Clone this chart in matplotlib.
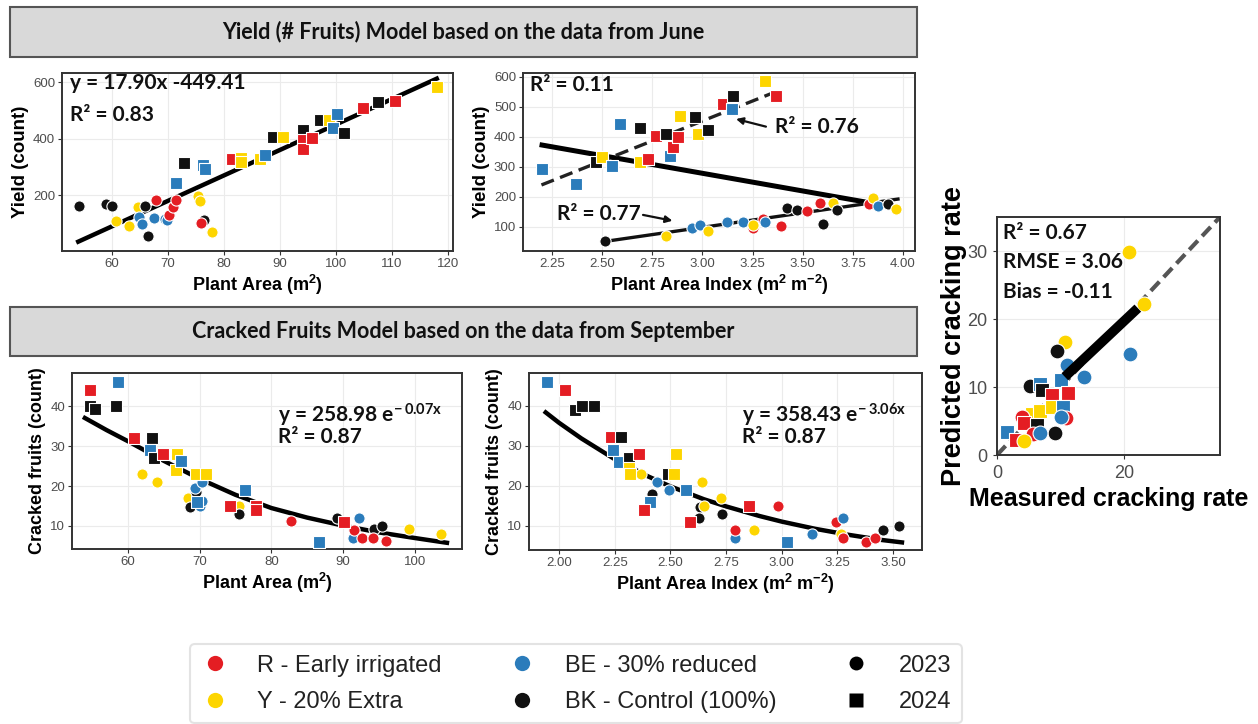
import matplotlib
matplotlib.use("Agg")
import matplotlib.pyplot as plt
from matplotlib.lines import Line2D
from matplotlib.patches import Rectangle

plt.rcParams['font.family'] = ['Liberation Sans', 'DejaVu Sans']
plt.rcParams['mathtext.default'] = 'regular'

W, H = 1258, 724

# Colours per irrigation treatment
COLORS = {'R': '#e41d23', 'Y': '#fdd500', 'BE': '#2b7cbb', 'BK': '#111111'}

# Panel A: yield vs plant area (June)
pa_x = [54.2, 59.0, 60.0, 60.8, 63.0, 64.7, 64.8, 65.3, 66.0, 66.5, 67.5, 67.8, 69.5, 69.8, 70.2,
        71.0, 71.5, 75.3, 75.7, 76.5, 76.0, 77.8,
        72.8, 71.5, 76.3, 76.6, 81.5, 83.0, 83.0, 86.5, 87.3, 88.7, 90.5, 94.2, 94.2, 94.2, 95.7,
        97.2, 98.7, 99.5, 100.2, 101.5, 104.8, 107.6, 110.5, 118.0]
pa_y = [162, 170, 160, 108, 90, 159, 124, 98, 161, 55, 119, 181, 116, 110, 129,
        159, 181, 196, 179, 112, 100, 71,
        312, 244, 306, 291, 326, 330, 318, 326, 341, 406, 404, 429, 396, 362, 402,
        465, 465, 439, 488, 420, 509, 529, 532, 582]
pa_trt = ['BK', 'BK', 'BK', 'Y', 'Y', 'Y', 'BE', 'BE', 'BK', 'BK', 'BE', 'R', 'BE', 'BE', 'R',
          'R', 'R', 'Y', 'Y', 'BK', 'R', 'Y',
          'BK', 'BE', 'BE', 'BE', 'R', 'Y', 'Y', 'Y', 'BE', 'BK', 'Y', 'BK', 'R', 'R', 'R',
          'BK', 'Y', 'BE', 'BE', 'BK', 'R', 'BK', 'R', 'Y']
pa_year = [2023] * 22 + [2024] * 24
pa_fit_x = [54.0, 118.0]
pa_fit_y = [35, 612]

# Panel B: yield vs plant area index (June)
pb_x = [2.20, 2.37, 2.47, 2.50, 2.55, 2.59, 2.69, 2.69, 2.73, 2.77, 2.82, 2.84, 2.855, 2.88, 2.89,
        2.965, 2.98, 3.03, 3.10, 3.15, 3.146, 3.31, 3.365,
        2.515, 2.82, 2.95, 2.99, 3.03, 3.12, 3.20, 3.25, 3.25, 3.30, 3.31, 3.39, 3.42, 3.47,
        3.52, 3.585, 3.60, 3.65, 3.67, 3.83, 3.85, 3.875, 3.925, 3.967]
pb_y = [292, 244, 315, 332, 303, 442, 431, 315, 326, 403, 409, 338, 365, 399, 469,
        467, 409, 423, 511, 536, 492, 587, 536,
        52, 69, 97, 108, 88, 117, 117, 97, 108, 128, 117, 102, 163, 158,
        154, 180, 110, 180, 158, 177, 196, 169, 177, 160]
pb_trt = ['BE', 'BE', 'BK', 'Y', 'BE', 'BE', 'BK', 'Y', 'R', 'R', 'BK', 'BE', 'R', 'R', 'Y',
          'BK', 'Y', 'BK', 'R', 'BK', 'BE', 'Y', 'R',
          'BK', 'Y', 'BE', 'BE', 'Y', 'BE', 'BE', 'R', 'Y', 'R', 'BE', 'R', 'BK', 'BK',
          'R', 'R', 'BK', 'Y', 'BK', 'R', 'Y', 'BE', 'BK', 'Y']
pb_year = [2024] * 23 + [2023] * 24
pb_fit_all_x = [2.20, 3.84]
pb_fit_all_y = [373, 180]
pb_fit_2024_x = [2.197, 3.345]
pb_fit_2024_y = [240, 545]
pb_fit_2023_x = [2.515, 3.975]
pb_fit_2023_y = [52, 193]

# Panel C: cracked fruits vs plant area (September)
pc_x = [61.9, 64.0, 68.4, 68.7, 69.5, 69.4, 70.0, 70.3, 70.3, 75.5, 75.5, 82.8, 89.2, 91.4, 91.6,
        92.2, 92.7, 94.3, 94.2, 95.5, 96.0, 99.2, 103.7,
        54.65, 58.6, 54.65, 55.4, 58.4, 60.8, 63.3, 63.1, 63.6, 64.9, 66.8, 66.65, 67.4, 69.5,
        70.9, 69.7, 76.4, 74.3, 77.8, 77.8, 86.7, 90.2]
pc_y = [23.0, 21.0, 17.1, 14.8, 18.4, 19.4, 15.0, 16.3, 21.0, 15.0, 12.9, 11.3, 12.0, 7.0, 9.1,
        12.0, 7.1, 9.2, 7.1, 10.0, 6.2, 9.2, 8.1,
        44.0, 46.0, 40.0, 39.2, 40.0, 32.1, 32.0, 29.0, 26.9, 28.0, 28.0, 24.0, 26.2, 23.0,
        23.0, 16.0, 19.1, 15.0, 15.0, 13.9, 6.0, 11.1]
pc_trt = ['Y', 'Y', 'Y', 'BK', 'BK', 'BE', 'BE', 'BE', 'BE', 'Y', 'BK', 'R', 'BK', 'BE', 'R',
          'BE', 'R', 'BK', 'R', 'BK', 'R', 'Y', 'Y',
          'R', 'BE', 'BK', 'BK', 'BK', 'R', 'BK', 'BE', 'BK', 'R', 'Y', 'Y', 'BE', 'Y',
          'Y', 'BE', 'BE', 'R', 'R', 'R', 'BE', 'R']
pc_year = [2023] * 23 + [2024] * 22
pc_curve_x = [54, 57, 60, 65, 70, 75, 80, 85, 90, 95, 100, 104.5]
pc_curve_y = [37.0, 34.0, 31.2, 26.3, 21.8, 17.8, 14.5, 12.1, 10.1, 8.4, 7.0, 5.8]

# Panel D: cracked fruits vs plant area index (September)
pd_x = [2.37, 2.419, 2.44, 2.494, 2.632, 2.629, 2.642, 2.65, 2.729, 2.734, 2.792, 2.792, 2.874,
        2.983, 3.138, 3.246, 3.276, 3.268, 3.276, 3.377, 3.418, 3.455, 3.527,
        1.946, 2.025, 2.07, 2.103, 2.156, 2.235, 2.277, 2.243, 2.268, 2.314, 2.36, 2.314, 2.317,
        2.407, 2.382, 2.49, 2.515, 2.527, 2.569, 2.587, 2.853, 3.025]
pd_y = [23.0, 17.9, 20.9, 19.0, 14.8, 11.9, 21.1, 15.0, 16.9, 12.9, 6.9, 9.0, 9.0,
        15.0, 7.9, 11.1, 12.1, 8.0, 6.9, 5.9, 6.9, 9.0, 10.0,
        45.9, 44.0, 39.0, 40.0, 40.0, 32.2, 32.2, 29.0, 26.1, 27.1, 28.0, 24.4, 23.0,
        16.1, 14.0, 23.0, 23.0, 27.9, 19.0, 11.1, 15.0, 6.1]
pd_trt = ['Y', 'BK', 'BE', 'BE', 'BK', 'BK', 'Y', 'Y', 'Y', 'BK', 'BE', 'R', 'Y',
          'R', 'BE', 'R', 'BE', 'Y', 'R', 'R', 'R', 'BK', 'BK',
          'BE', 'R', 'BK', 'BK', 'BK', 'R', 'BK', 'BE', 'BE', 'BK', 'R', 'Y', 'Y',
          'BE', 'R', 'BK', 'Y', 'Y', 'BE', 'R', 'R', 'BE']
pd_year = [2023] * 23 + [2024] * 22
pd_curve_x = [1.94, 2.0, 2.1, 2.25, 2.4, 2.5, 2.65, 2.75, 2.9, 3.0, 3.15, 3.3, 3.45, 3.54]
pd_curve_y = [38.4, 35.8, 31.9, 26.7, 22.4, 19.9, 16.7, 14.9, 12.5, 11.1, 9.3, 7.8, 6.5, 5.9]

# Panel E: predicted vs measured cracking rate
pe_x = [20.7, 23.0, 20.9, 10.6, 9.35, 11.0, 13.6, 5.2, 6.75, 10.0, 7.0, 8.6, 11.1, 5.5, 6.75,
        8.6, 10.4, 10.9, 10.1, 3.9, 4.2, 6.2, 5.7, 9.1, 6.75, 1.6, 3.0, 4.2]
pe_y = [29.8, 22.2, 14.8, 16.6, 15.3, 13.3, 11.5, 10.1, 10.5, 11.1, 9.6, 8.8, 9.1, 6.1, 6.4,
        7.0, 7.1, 5.4, 5.6, 5.6, 4.7, 4.4, 3.1, 3.2, 3.2, 3.4, 2.2, 2.1]
pe_trt = ['Y', 'Y', 'BE', 'Y', 'BK', 'BE', 'BE', 'BK', 'BE', 'BE', 'BK', 'R', 'R', 'Y', 'Y',
          'Y', 'BE', 'R', 'BE', 'R', 'R', 'BK', 'R', 'BK', 'BE', 'BE', 'R', 'Y']
pe_year = [2023, 2023, 2023, 2023, 2023, 2023, 2023, 2023, 2024, 2024, 2024, 2024, 2024, 2024, 2024,
           2024, 2024, 2023, 2023, 2023, 2024, 2024, 2023, 2023, 2023, 2024, 2024, 2023]
pe_fit_x = [10.65, 22.1]
pe_fit_y = [11.5, 21.6]
one_to_one = [0, 35]

LEGEND_LABELS = ['R - Early irrigated', 'Y - 20% Extra', 'BE - 30% reduced',
                 'BK - Control (100%)', '2023', '2024']


def px_axes(fig, x0, y0, x1, y1):
    return fig.add_axes([x0 / W, 1 - y1 / H, (x1 - x0) / W, (y1 - y0) / H])


def style_axes(ax, tick_size=9.5, pad=2):
    for sp in ax.spines.values():
        sp.set_color('#333333')
        sp.set_linewidth(1.4)
    ax.tick_params(direction='out', length=3, width=0.8, color='#333333',
                   labelcolor='#4d4d4d', labelsize=tick_size, pad=pad)
    ax.grid(True, color='#ebebeb', linewidth=0.8)
    ax.set_axisbelow(True)


def draw_points(ax, xs, ys, trts, years, size=65):
    for x, y, t, yr in zip(xs, ys, trts, years):
        ax.scatter(x, y, s=size, c=COLORS[t], marker='o' if yr == 2023 else 's',
                   edgecolors='white', linewidths=0.8, zorder=3)


def banner(fig, y0, y1, text):
    rect = Rectangle((10 / W, 1 - y1 / H), 907 / W, (y1 - y0) / H, transform=fig.transFigure,
                     facecolor='#d9d9d9', edgecolor='#555555', linewidth=1.5)
    fig.add_artist(rect)
    fig.text(463 / W, 1 - (y0 + y1) / 2 / H, text, ha='center', va='center',
             fontsize=15.5, fontweight='bold', family='Lato', color='#111111')


fig = plt.figure(figsize=(W / 100, H / 100), dpi=100)

banner(fig, 7, 57, 'Yield (# Fruits) Model based on the data from June')
banner(fig, 307, 356, 'Cracked Fruits Model based on the data from September')

eq_kw = dict(fontsize=15, fontweight='bold', family='Lato', color='#111111', va='center')

# Panel A
ax1 = px_axes(fig, 62, 73, 453, 251)
style_axes(ax1)
draw_points(ax1, pa_x, pa_y, pa_trt, pa_year)
ax1.plot(pa_fit_x, pa_fit_y, color='black', lw=3.2, zorder=2)
ax1.set_xlim(51.1, 120.9)
ax1.set_ylim(2, 632)
ax1.set_xticks([60, 70, 80, 90, 100, 110, 120])
ax1.set_yticks([200, 400, 600])
ax1.set_xlabel('Plant Area (m$^2$)', fontsize=13, fontweight='bold', labelpad=2)
ax1.set_ylabel('Yield (count)', fontsize=13.5, fontweight='bold', labelpad=3)
ax1.text(0.02, 0.944, 'y = 17.90x -449.41', transform=ax1.transAxes, **eq_kw)
ax1.text(0.02, 0.764, 'R² = 0.83', transform=ax1.transAxes, **eq_kw)

# Panel B
ax2 = px_axes(fig, 523, 73, 915, 251)
style_axes(ax2)
draw_points(ax2, pb_x, pb_y, pb_trt, pb_year)
ax2.plot(pb_fit_all_x, pb_fit_all_y, color='black', lw=3.6, zorder=2)
ax2.plot(pb_fit_2024_x, pb_fit_2024_y, color='#222222', lw=2.4, ls=(0, (4, 2)), zorder=2)
ax2.plot(pb_fit_2023_x, pb_fit_2023_y, color='#111111', lw=2.4, zorder=2)
ax2.set_xlim(2.105, 4.06)
ax2.set_ylim(20, 613)
ax2.set_xticks([2.25, 2.5, 2.75, 3.0, 3.25, 3.5, 3.75, 4.0])
ax2.set_xticklabels(['%.2f' % v for v in ax2.get_xticks()])
ax2.set_yticks([100, 200, 300, 400, 500, 600])
ax2.set_xlabel('Plant Area Index (m$^2$ m$^{-2}$)', fontsize=13, fontweight='bold', labelpad=2)
ax2.set_ylabel('Yield (count)', fontsize=13.5, fontweight='bold', labelpad=3)
ax2.text(0.018, 0.933, 'R² = 0.11', transform=ax2.transAxes, **eq_kw)
ax2.text(3.361, 434, 'R² = 0.76', **eq_kw)
ax2.annotate('', xy=(3.154, 462), xytext=(3.33, 432),
             arrowprops=dict(arrowstyle='-|>', color='#111111', lw=1.6, mutation_scale=10))
ax2.text(2.275, 144, 'R² = 0.77', **eq_kw)
ax2.annotate('', xy=(2.864, 119), xytext=(2.69, 142),
             arrowprops=dict(arrowstyle='-|>', color='#111111', lw=1.6, mutation_scale=10))

# Panel C
ax3 = px_axes(fig, 72, 373, 462, 549)
style_axes(ax3)
draw_points(ax3, pc_x, pc_y, pc_trt, pc_year)
ax3.plot(pc_curve_x, pc_curve_y, color='black', lw=3.2, zorder=2)
ax3.set_xlim(52.2, 106.6)
ax3.set_ylim(4.25, 48.25)
ax3.set_xticks([60, 70, 80, 90, 100])
ax3.set_yticks([10, 20, 30, 40])
ax3.set_xlabel('Plant Area (m$^2$)', fontsize=13, fontweight='bold', labelpad=2)
ax3.set_ylabel('Cracked fruits (count)', fontsize=13, fontweight='bold', labelpad=3)
ax3.text(0.528, 0.761, 'y = 258.98 e$^{-\\,0.07x}$', transform=ax3.transAxes, **eq_kw)
ax3.text(0.528, 0.636, 'R² = 0.87', transform=ax3.transAxes, **eq_kw)

# Panel D
ax4 = px_axes(fig, 529, 373, 922, 550)
style_axes(ax4)
draw_points(ax4, pd_x, pd_y, pd_trt, pd_year)
ax4.plot(pd_curve_x, pd_curve_y, color='black', lw=3.2, zorder=2)
ax4.set_xlim(1.865, 3.63)
ax4.set_ylim(4.0, 48.25)
ax4.set_xticks([2.0, 2.25, 2.5, 2.75, 3.0, 3.25, 3.5])
ax4.set_xticklabels(['%.2f' % v for v in ax4.get_xticks()])
ax4.set_yticks([10, 20, 30, 40])
ax4.set_xlabel('Plant Area Index (m$^2$ m$^{-2}$)', fontsize=13, fontweight='bold', labelpad=2)
ax4.set_ylabel('Cracked fruits (count)', fontsize=13, fontweight='bold', labelpad=3)
ax4.text(0.542, 0.763, 'y = 358.43 e$^{-\\,3.06x}$', transform=ax4.transAxes, **eq_kw)
ax4.text(0.542, 0.638, 'R² = 0.87', transform=ax4.transAxes, **eq_kw)

# Panel E
ax5 = px_axes(fig, 997, 217, 1220, 455)
style_axes(ax5, tick_size=13, pad=4)
ax5.plot(one_to_one, one_to_one, color='#555555', lw=3, ls=(0, (3, 1.5)), zorder=2)
draw_points(ax5, pe_x, pe_y, pe_trt, pe_year, size=115)
ax5.plot(pe_fit_x, pe_fit_y, color='black', lw=7, zorder=3.5, solid_capstyle='butt')
ax5.set_xlim(0, 35)
ax5.set_ylim(0, 35)
ax5.set_xticks([0, 20])
ax5.set_yticks([0, 10, 20, 30])
ax5.set_xlabel('Measured cracking rate', fontsize=18, fontweight='bold', labelpad=4)
ax5.set_ylabel('Predicted cracking rate', fontsize=19.5, fontweight='bold', labelpad=0)
ax5.text(0.027, 0.933, 'R² = 0.67', transform=ax5.transAxes, **eq_kw)
ax5.text(0.027, 0.811, 'RMSE = 3.06', transform=ax5.transAxes, **eq_kw)
ax5.text(0.027, 0.685, 'Bias = -0.11', transform=ax5.transAxes, **eq_kw)

# Legend
handles = [
    Line2D([], [], ls='', marker='o', ms=11, mfc=COLORS['R'], mec='none'),
    Line2D([], [], ls='', marker='o', ms=11, mfc=COLORS['Y'], mec='none'),
    Line2D([], [], ls='', marker='o', ms=11, mfc=COLORS['BE'], mec='none'),
    Line2D([], [], ls='', marker='o', ms=11, mfc=COLORS['BK'], mec='none'),
    Line2D([], [], ls='', marker='o', ms=10, mfc='black', mec='none'),
    Line2D([], [], ls='', marker='s', ms=10, mfc='black', mec='none'),
]
leg = fig.legend(handles, LEGEND_LABELS, ncol=3, loc='upper left',
                 bbox_to_anchor=(190 / W, 1 - 644 / H), borderaxespad=0, fontsize=17,
                 frameon=True, fancybox=True, edgecolor='#dddddd', handletextpad=1.2,
                 columnspacing=2.8, labelspacing=0.6, borderpad=0.45, handlelength=1.2)
leg.get_frame().set_linewidth(1.5)
for t in leg.get_texts():
    t.set_color('#222222')

fig.savefig('out.png', dpi=100)
